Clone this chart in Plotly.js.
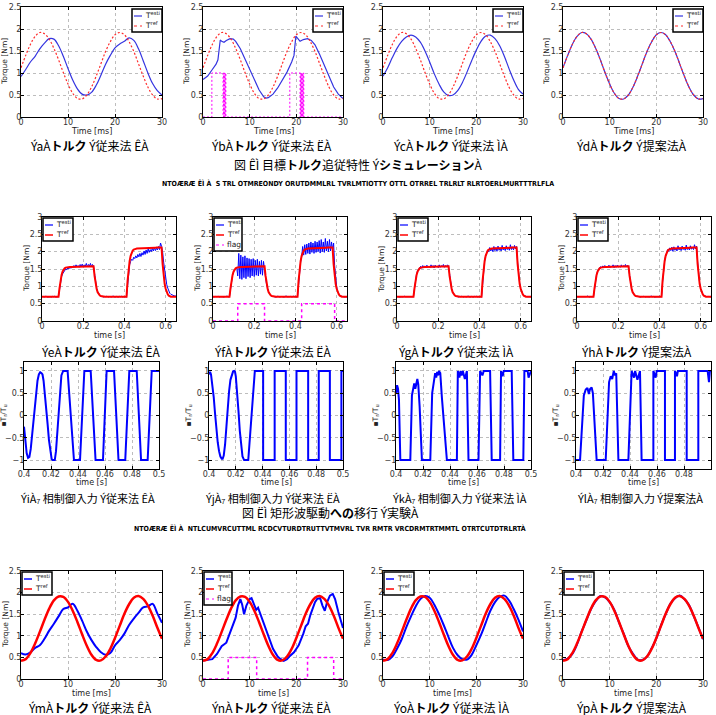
<!DOCTYPE html>
<html><head><meta charset="utf-8">
<script src="https://cdn.plot.ly/plotly-3.0.1.min.js"></script>
<style>body{margin:0;background:#fff}#chart{width:716px;height:715px}</style>
</head><body><div id="chart"></div><script>
// ---------- Row 1: simulation, torque vs time [ms] (x0=0, dx=1) ----------
const simRef   = [1.12,1.40,1.65,1.83,1.92,1.89,1.77,1.56,1.30,1.01,0.75,0.54,0.42,0.41,0.50,0.68,0.93,1.21,1.49,1.71,1.87,1.92,1.87,1.71,1.49,1.21,0.93,0.68,0.50,0.41,0.42];
const simEstiA = [0.92,1.08,1.25,1.38,1.55,1.68,1.78,1.77,1.62,1.38,1.10,0.84,0.64,0.52,0.50,0.56,0.72,0.95,1.20,1.40,1.57,1.66,1.72,1.80,1.74,1.55,1.28,1.00,0.76,0.60,0.50];
const simTimeB = [0,1,2,2.8,3.2,3.45,3.7,4.0,4.5,5.0,5.8,6.5,7.0,8,9,10,11,12,13,13.5,14,15,16,17,18,19,19.5,19.9,20.3,20.8,21.5,22.4,23.2,24,25,26,27,28,29,30];
const simEstiB = [0.85,0.93,1.08,1.20,1.30,1.55,1.75,1.72,1.70,1.74,1.78,1.77,1.72,1.55,1.32,1.06,0.82,0.62,0.46,0.43,0.44,0.52,0.66,0.84,1.02,1.25,1.40,1.84,1.78,1.72,1.76,1.78,1.74,1.64,1.42,1.16,0.90,0.68,0.52,0.42];
const simFlagT = [0,1.9,1.9,4.3,4.3,4.4,4.4,4.5,4.5,4.6,4.6,4.7,4.7,4.8,4.8,4.9,4.9,18.6,18.6,20.8,20.8,20.9,20.9,21.0,21.0,21.1,21.1,21.2,21.2,21.3,21.3,21.4,21.4,21.5,21.5,21.6,21.6,30];
const simFlag  = [0,0,1,1,0,0,1,1,0,0,1,1,0,0,1,1,0,0,1,1,0,0,1,1,0,0,1,1,0,0,1,1,0,0,1,1,0,0];
const simEstiC = [0.93,1.12,1.35,1.56,1.72,1.82,1.86,1.82,1.70,1.50,1.25,0.98,0.75,0.57,0.49,0.50,0.60,0.78,1.02,1.28,1.52,1.72,1.84,1.86,1.78,1.62,1.38,1.10,0.84,0.63,0.52];
const simEstiD = [1.12,1.40,1.65,1.83,1.92,1.89,1.77,1.56,1.30,1.01,0.75,0.54,0.42,0.41,0.50,0.68,0.93,1.21,1.49,1.71,1.87,1.92,1.87,1.71,1.49,1.21,0.93,0.68,0.50,0.41,0.42];

// ---------- Row 2: experiment, step torque vs time [s] (x0=0, dx=0.005) ----------
const expRef = [0.70,0.70,0.70,0.70,0.70,0.70,0.70,0.70,0.70,0.70,0.70,0.70,0.70,0.70,0.70,0.70,0.70,
 0.95,1.18,1.33,1.43,1.49,1.52,1.54,1.55,
 1.55,1.56,1.56,1.56,1.56,1.57,1.57,1.57,1.57,1.57,1.57,1.58,1.58,1.58,1.58,1.58,1.58,1.58,1.58,1.58,1.58,1.58,1.58,1.58,1.58,1.58,
 1.30,1.08,0.93,0.83,0.77,0.74,0.72,0.71,
 0.70,0.70,0.70,0.70,0.70,0.70,0.70,0.70,0.70,0.70,0.70,0.70,0.70,0.70,0.70,0.70,0.70,0.70,0.70,0.70,0.70,0.70,0.70,0.70,
 1.15,1.50,1.73,1.88,1.97,2.03,2.06,2.08,
 2.08,2.09,2.09,2.09,2.09,2.10,2.10,2.10,2.10,2.10,2.10,2.10,2.11,2.11,2.11,2.11,2.11,2.11,2.11,2.11,2.12,2.12,2.12,2.12,2.12,2.12,
 1.65,1.30,1.07,0.93,0.83,0.77,0.73,0.71,
 0.70,0.70,0.70,0.70,0.70,0.70];
const expEstiA = [0.70,0.71,0.69,0.70,0.72,0.69,0.70,0.71,0.70,0.69,0.71,0.70,0.72,0.69,0.70,0.71,0.70,
 0.90,1.12,1.28,1.36,1.42,1.45,1.50,1.48,1.53,1.50,1.56,1.52,1.58,1.54,1.60,1.55,1.62,1.56,1.60,1.55,1.63,1.57,1.64,1.56,1.62,1.58,1.66,1.56,1.63,1.58,1.66,1.57,1.63,1.58,
 1.35,1.12,0.95,0.85,0.78,0.75,0.72,0.71,
 0.70,0.69,0.71,0.70,0.72,0.69,0.70,0.71,0.69,0.70,0.72,0.70,0.69,0.71,0.70,0.69,0.71,0.70,0.72,0.69,0.70,0.71,0.70,0.69,
 1.05,1.40,1.62,1.72,1.78,1.75,1.84,1.80,1.88,1.82,1.92,1.85,1.95,1.86,1.97,1.90,2.02,1.92,2.05,1.95,2.08,1.98,2.06,2.00,2.10,2.02,2.12,2.03,2.10,2.05,2.15,2.06,2.25,2.15,
 2.00,1.70,1.45,1.22,1.05,0.95,0.86,0.80,0.77,0.75,0.74,0.73,0.72,0.72];
const expEstiB = [0.70,0.69,0.71,0.70,0.70,0.72,0.69,0.70,0.71,0.70,0.69,0.70,0.71,0.70,0.72,0.69,0.70,
 0.92,1.15,1.32,1.42,1.48,1.52,1.54,1.30,1.95,1.22,1.90,1.20,1.85,1.25,1.88,1.22,1.82,1.28,1.80,1.25,1.78,1.30,1.80,1.28,1.75,1.32,1.78,1.30,1.72,1.35,1.75,1.32,1.72,1.40,
 1.25,1.05,0.92,0.84,0.78,0.74,0.72,0.71,
 0.70,0.71,0.69,0.70,0.72,0.70,0.69,0.71,0.70,0.70,0.69,0.71,0.72,0.70,0.69,0.70,0.71,0.70,0.69,0.72,0.70,0.71,0.69,0.70,
 1.10,1.45,1.70,1.85,2.15,1.90,2.20,1.92,2.22,1.95,2.25,1.93,2.28,1.98,2.25,1.95,2.30,1.98,2.28,2.00,2.32,1.96,2.35,2.00,2.28,1.98,2.38,2.02,2.30,2.00,2.35,2.02,2.28,2.05,
 2.25,1.60,1.20,0.98,0.85,0.78,0.74,0.72,0.71,0.70,0.70,0.69,0.70,0.70];
const expEstiC = [0.70,0.71,0.69,0.70,0.71,0.70,0.69,0.72,0.70,0.70,0.69,0.71,0.70,0.70,0.71,0.69,0.70,
 0.95,1.20,1.35,1.45,1.50,1.53,1.58,1.52,1.60,1.54,1.59,1.53,1.61,1.55,1.58,1.54,1.62,1.55,1.60,1.53,1.61,1.56,1.59,1.54,1.62,1.55,1.60,1.56,1.63,1.55,1.60,1.56,1.62,1.58,
 1.32,1.10,0.94,0.84,0.78,0.74,0.72,0.71,
 0.70,0.69,0.71,0.70,0.72,0.69,0.70,0.71,0.69,0.70,0.72,0.70,0.69,0.71,0.70,0.69,0.71,0.70,0.72,0.69,0.70,0.71,0.70,0.69,
 1.12,1.48,1.72,1.88,1.98,2.05,2.00,2.12,2.02,2.10,2.00,2.15,2.03,2.12,2.01,2.16,2.04,2.11,2.02,2.18,2.05,2.12,2.03,2.17,2.06,2.13,2.04,2.20,2.06,2.14,2.05,2.18,2.08,2.15,
 1.70,1.32,1.08,0.94,0.84,0.78,0.74,0.72,0.71,0.70,0.70,0.71,0.70,0.70];
const expEstiD = [0.70,0.70,0.71,0.69,0.70,0.71,0.70,0.69,0.71,0.70,0.72,0.70,0.69,0.70,0.71,0.70,0.70,
 0.95,1.19,1.34,1.44,1.50,1.54,1.57,1.53,1.59,1.55,1.60,1.54,1.58,1.55,1.61,1.54,1.59,1.56,1.62,1.54,1.60,1.55,1.61,1.56,1.59,1.55,1.62,1.56,1.60,1.57,1.63,1.56,1.61,1.58,
 1.32,1.10,0.94,0.84,0.78,0.74,0.72,0.71,
 0.70,0.71,0.70,0.69,0.71,0.70,0.72,0.69,0.70,0.71,0.70,0.69,0.70,0.72,0.70,0.71,0.69,0.70,0.71,0.70,0.69,0.72,0.70,0.70,
 1.12,1.48,1.72,1.88,1.97,2.06,2.01,2.11,2.03,2.13,2.01,2.14,2.04,2.10,2.02,2.17,2.05,2.12,2.03,2.16,2.06,2.11,2.04,2.19,2.06,2.12,2.05,2.17,2.07,2.13,2.06,2.20,2.08,2.16,
 1.72,1.33,1.08,0.94,0.84,0.78,0.74,0.72,0.71,0.70,0.71,0.70,0.70,0.70];
const expFlagT = [0,0.12,0.12,0.25,0.25,0.43,0.43,0.59,0.59,0.65];
const expFlag  = [0,0,0.5,0.5,0,0,0.5,0.5,0,0];

// ---------- Row 3: q-axis control input ----------
const r3aT = [0.4,0.401,0.402,0.403,0.404,0.405,0.406,0.407,0.408,0.409,0.41,0.411,0.412,0.413,0.4137,0.4145,0.4155,0.4165,0.4175,0.4185,0.4195,0.4205,0.4212,0.4228,0.4237,0.4247,0.4257,0.4267,0.4277,0.429,0.4323,0.437,0.4415,0.4447,0.4494,0.453,0.4585,0.4612,0.4667,0.47,0.475,0.478,0.4835,0.4867,0.4916,0.4946,0.5];
const r3aV = [-0.25,-0.62,-0.85,-0.95,-0.93,-0.75,-0.45,-0.1,0.25,0.55,0.78,0.92,0.97,0.95,0.92,0.78,0.5,0.15,-0.2,-0.55,-0.82,-0.98,-1,-1,-0.8,-0.35,0.15,0.6,0.9,1,1,-1,-1,1,1,-1,-1,1,1,-1,-1,1,1,-1,-1,1,1];
const r3bT = [0.4,0.4008,0.4015,0.4025,0.4035,0.4045,0.4055,0.4065,0.4075,0.4085,0.4095,0.4102,0.411,0.412,0.413,0.414,0.415,0.416,0.417,0.418,0.4188,0.4194,0.42,0.421,0.422,0.423,0.424,0.425,0.4262,0.4268,0.4293,0.4342,0.4404,0.4404,0.449,0.449,0.4573,0.4573,0.4653,0.4653,0.474,0.474,0.4819,0.4819,0.4902,0.4902,0.4988,0.4988,0.5];
const r3bV = [0.92,0.98,0.92,0.72,0.42,0.05,-0.3,-0.6,-0.8,-0.92,-0.97,-0.97,-0.9,-0.65,-0.25,0.2,0.55,0.8,0.93,0.99,1.0,0.98,0.88,0.55,0.1,-0.35,-0.7,-0.92,-1,-1,-1,1,1,-1,-1,1,1,-1,-1,1,1,-1,-1,1,1,-1,-1,1,1];
const r3cT = [0.4,0.4008,0.4015,0.4022,0.4032,0.4106,0.4118,0.4128,0.4135,0.4143,0.415,0.4158,0.4165,0.4175,0.4192,0.4254,0.4268,0.428,0.429,0.4298,0.4305,0.4312,0.4318,0.4328,0.434,0.4377,0.4451,0.4458,0.447,0.4478,0.4486,0.4495,0.451,0.4525,0.4537,0.4611,0.4623,0.464,0.465,0.4658,0.4697,0.4709,0.4771,0.4778,0.479,0.4798,0.4857,0.4869,0.4943,0.4951,0.4975,0.4982,0.5];
const r3cV = [0.5,0.68,0.6,0.35,-1,-1,0.45,0.62,0.72,0.6,0.75,0.82,0.7,0.2,-1,-1,0.5,0.82,0.95,0.85,0.98,0.9,1,0.95,0.4,-1,-1,1,0.85,1,0.9,1,0.82,1,-1,-1,1,0.9,1,1,1,-1,-1,1,0.88,1,1,-1,-1,1,1,0.85,1];
const r3dT = [0.4,0.403,0.4058,0.4072,0.4085,0.4095,0.4105,0.4116,0.4125,0.4153,0.422,0.4245,0.4257,0.4268,0.428,0.429,0.4298,0.4314,0.4388,0.4412,0.443,0.4438,0.4455,0.4474,0.4486,0.4573,0.4573,0.459,0.4598,0.4659,0.4659,0.4733,0.4733,0.4748,0.4755,0.482,0.482,0.4906,0.4906,0.4975,0.4985,0.4992,0.5];
const r3dV = [-1,-1,0.45,0.58,0.62,0.48,0.6,0.63,0.5,-1,-1,0.75,0.88,0.82,1,0.9,0.95,-1,-1,1,0.85,1,0.8,1,-1,-1,1,0.85,1,1,-1,-1,1,0.88,1,1,-1,-1,1,1,0.75,1,1];

// ---------- Row 4: experiment, sinusoidal torque (x0=0, dx=1 ms) ----------
const r4Ref   = [0.42,0.46,0.60,0.82,1.09,1.37,1.63,1.82,1.91,1.90,1.785,1.58,1.32,1.035,0.77,0.56,0.44,0.43,0.52,0.70,0.95,1.23,1.51,1.73,1.88,1.92,1.855,1.70,1.47,1.19,0.93];
const r4EstiA = [0.60,0.57,0.62,0.72,0.78,0.93,1.12,1.28,1.45,1.62,1.66,1.74,1.58,1.35,1.10,0.90,0.74,0.62,0.56,0.60,0.78,0.90,1.05,1.25,1.40,1.53,1.66,1.68,1.74,1.52,1.30];
const r4TimeB = [0,1,2,3,4,5,5.5,6.2,7,7.5,8,8.4,8.8,9.3,10,10.4,11,11.4,11.8,12.5,13.3,14,15,16,16.5,17.3,18,18.5,19.5,20.5,21,21.5,22,22.5,23,23.5,24,24.5,25.1,25.6,26.1,26.6,27.2,27.8,28.3,29,29.5,30];
const r4EstiB = [0.43,0.44,0.46,0.58,0.76,0.84,0.98,1.15,1.42,1.70,1.85,1.72,1.50,1.70,1.85,1.87,1.72,1.60,1.65,1.45,1.20,0.98,0.70,0.52,0.47,0.42,0.46,0.52,0.62,0.78,0.90,1.05,1.22,1.28,1.48,1.65,1.78,1.86,1.87,1.70,1.58,1.78,1.93,1.97,1.85,1.55,1.38,1.18];
const r4FlagT = [0,5.4,5.4,11.5,11.5,22.4,22.4,28.0,28.0,30];
const r4Flag  = [0,0,0.5,0.5,0,0,0.5,0.5,0,0];
const r4EstiC = [0.45,0.44,0.52,0.70,0.92,1.20,1.45,1.68,1.85,1.92,1.88,1.72,1.50,1.25,0.98,0.72,0.55,0.46,0.45,0.56,0.78,1.02,1.30,1.58,1.78,1.90,1.93,1.82,1.62,1.38,1.10];
const r4EstiD = [0.44,0.47,0.58,0.80,1.10,1.36,1.62,1.80,1.92,1.89,1.78,1.60,1.31,1.05,0.76,0.58,0.45,0.44,0.52,0.71,0.94,1.24,1.50,1.74,1.87,1.93,1.85,1.71,1.46,1.20,0.92];

// ---------- Tick labels and text ----------
const tickT30 = [0,10,20,30];
const tickTq25 = [0,0.5,1,1.5,2,2.5];
const tickTq3 = [0,0.5,1,1.5,2,2.5,3];
const tickS65 = [0,0.2,0.4,0.6];
const tickS5 = [0.4,0.42,0.44,0.46,0.48,0.5];
const tickU = [-1,-0.5,0,0.5,1];
const capRow1 = ['ÝaÀ<b>トルク</b> Ý従来法 ÊÀ','ÝbÀ<b>トルク</b> Ý従来法 ËÀ','ÝcÀ<b>トルク</b> Ý従来法 ÌÀ','ÝdÀ<b>トルク</b> Ý提案法À'];
const capRow2 = ['ÝeÀ<b>トルク</b> Ý従来法 ÊÀ','ÝfÀ<b>トルク</b> Ý従来法 ËÀ','ÝgÀ<b>トルク</b> Ý従来法 ÌÀ','ÝhÀ<b>トルク</b> Ý提案法À'];
const capRow3 = ['ÝiÀ₇ 相制御入力 Ý従来法 ÊÀ','ÝjÀ₇ 相制御入力 Ý従来法 ËÀ','ÝkÀ₇ 相制御入力 Ý従来法 ÌÀ','ÝlÀ₇ 相制御入力 Ý提案法À'];
const capRow4 = ['ÝmÀ<b>トルク</b> Ý従来法 ÊÀ','ÝnÀ<b>トルク</b> Ý従来法 ËÀ','ÝoÀ<b>トルク</b> Ý従来法 ÌÀ','ÝpÀ<b>トルク</b> Ý提案法À'];
const figCap1 = '図 ÊÌ 目標<b>トルク</b>追従特性 Ý<b>シミュレーション</b>À';
const figCap1En = '<b>NTOÆRÆ ÊÌ À  S TRL OTMREONDY ORUTDMMLRL TVRLMTIOTTY OTTL OTRREL TRLRLT RLRTOERLMURTTTRLFLA</b>';
const figCap2 = '図 ËÌ 矩形波駆動<b>への</b>移行 Ý実験À';
const figCap2En = '<b>NTOÆRÆ ËÌ À  NTLCUMVRCUTTML RCDCVTURDTRUTTVTMVRL TVR RMTR VRCDRMTRTMMTL OTRTCUTDTRLRTÀ</b>';

// ---------- Layout helpers ----------
const W = 716, H = 715;
const FONT = 'DejaVu Sans, Arial, sans-serif';
const JP = 'Noto Sans CJK JP, sans-serif';
const NARROW = 'DejaVu Sans Condensed, Liberation Sans Narrow, DejaVu Sans, sans-serif';
function px(x) { return x / W; }
function py(y) { return 1 - y / H; }
function axis(o) {
  return Object.assign({
    showline: true, linecolor: '#000', linewidth: 1, mirror: 'ticks',
    ticks: 'inside', ticklen: 3, tickcolor: '#000',
    showgrid: true, gridcolor: '#bdbdbd', griddash: 'dot', gridwidth: 1,
    zeroline: false, fixedrange: true, tickmode: 'array', ticklabelstandoff: -3,
    tickfont: { family: FONT, size: 8, color: '#333' }
  }, o);
}

const layout = {
  width: W, height: H, margin: { l: 0, r: 0, t: 0, b: 0 },
  paper_bgcolor: '#fff', plot_bgcolor: '#fff', showlegend: false,
  annotations: [], shapes: [], font: { family: FONT }
};

// panel boxes in pixels
const row1 = [[21,162],[203,343],[383,523],[563,703]], row1y = [7,117];
const row2 = [[42,176],[213,347],[397,531],[577,711]], row2y = [217,321];
const row3 = [[24,159],[209,343],[396,531],[576,711]], row3y = [362,469];
const row4 = [[21,162],[203,343],[383,523],[563,703]], row4y = [571,679];

function text(txt, x, y, size, fam, anchor, extra) {
  layout.annotations.push(Object.assign({ text: txt, x: px(x), y: py(y), xref: 'paper', yref: 'paper',
    showarrow: false, xanchor: anchor || 'center', yanchor: 'middle',
    font: { family: fam || FONT, size: size, color: '#000' } }, extra || {}));
}

let n = 0;
function addPanel(xb, yb, xr, xt, yr, yt, xtitle, ytitle, ytitleX) {
  n++;
  const xs = n === 1 ? 'xaxis' : 'xaxis' + n, ys = n === 1 ? 'yaxis' : 'yaxis' + n;
  const xref = n === 1 ? 'x' : 'x' + n, yref = n === 1 ? 'y' : 'y' + n;
  layout[xs] = axis({ domain: [px(xb[0]), px(xb[1])], range: xr, tickvals: xt, anchor: yref });
  layout[ys] = axis({ domain: [py(yb[1]), py(yb[0])], range: yr, tickvals: yt, anchor: xref });
  text(xtitle, (xb[0] + xb[1]) / 2, yb[1] + 14, 8, FONT, 'center', { font: { family: FONT, size: 8, color: '#222' } });
  text(ytitle, ytitleX, (yb[0] + yb[1]) / 2, 8, FONT, 'center', { textangle: -90, font: { family: FONT, size: 7.5, color: '#222' } });
  return { xaxis: xref, yaxis: yref };
}
// hand-drawn small legend box (decoration, not data)
function legendBox(left, top, items) {
  const w = items.length > 2 ? 28 : 30, hgt = 3 + 10 * items.length;
  layout.shapes.push({ type: 'rect', xref: 'paper', yref: 'paper', x0: px(left), x1: px(left + w), y0: py(top + hgt), y1: py(top),
    line: { color: '#000', width: 1.5 }, fillcolor: '#fff', layer: 'above' });
  items.forEach((it, k) => {
    const yy = top + 7 + 10 * k;
    layout.shapes.push({ type: 'line', xref: 'paper', yref: 'paper', x0: px(left + 2), x1: px(left + 10), y0: py(yy), y1: py(yy),
      line: { color: it.color, width: it.width, dash: it.dash || 'solid' }, layer: 'above' });
    text(it.label, left + 11, yy - 1, 7.5, FONT, 'left', { font: { family: FONT, size: 7.5, color: '#222' } });
  });
}

const BLUE1 = '#3434e0', RED1 = '#ff2a2a', BLUE = '#0000ff', RED = '#ff0000', MAG = '#ff00ff';
const traces = [];
const lbE = 'T<sup>esti</sup>', lbR = 'T<sup>ref</sup>';

// Row 1
const r1E = [{ x0: 0, dx: 1, y: simEstiA }, { x: simTimeB, y: simEstiB }, { x0: 0, dx: 1, y: simEstiC }, { x0: 0, dx: 1, y: simEstiD }];
for (let i = 0; i < 4; i++) {
  const a = addPanel(row1[i], row1y, [0, 30], tickT30, [0, 2.5], tickTq25, 'Time [ms]', 'Torque [Nm]', row1[i][0] - 16);
  traces.push(Object.assign({ type: 'scatter', mode: 'lines', line: { color: BLUE1, width: 1.2, shape: i === 1 ? 'linear' : 'spline' } }, r1E[i], a));
  traces.push(Object.assign({ type: 'scatter', mode: 'lines', x0: 0, dx: 1, y: simRef, line: { color: RED1, width: 1.2, dash: '2px,2px', shape: 'spline' } }, a));
  if (i === 1) traces.push(Object.assign({ type: 'scatter', mode: 'lines', x: simFlagT, y: simFlag, line: { color: MAG, width: 1, dash: '2px,2px' } }, a));
  legendBox(row1[i][1] - 30, row1y[0] + 2, [
    { color: BLUE1, width: 1.2, label: lbE }, { color: RED1, width: 1.2, dash: 'dot', label: lbR }]);
  text(capRow1[i], (row1[i][0] + row1[i][1]) / 2 - 2, 145, 12, JP);
}
text(figCap1, 358, 164, 12, JP);
text(figCap1En, 358, 183, 7, NARROW);

// Row 2
const r2E = [expEstiA, expEstiB, expEstiC, expEstiD];
for (let i = 0; i < 4; i++) {
  const a = addPanel(row2[i], row2y, [0, 0.65], tickS65, [0, 3], tickTq3, 'time [s]', 'Torque [Nm]', row2[i][0] - 16);
  traces.push(Object.assign({ type: 'scatter', mode: 'lines', x0: 0, dx: 0.005, y: r2E[i], line: { color: BLUE, width: 1 } }, a));
  traces.push(Object.assign({ type: 'scatter', mode: 'lines', x0: 0, dx: 0.005, y: expRef, line: { color: RED, width: 2 } }, a));
  const items = [{ color: BLUE, width: 1.2, label: lbE }, { color: RED, width: 1.5, label: lbR }];
  if (i === 1) {
    traces.push(Object.assign({ type: 'scatter', mode: 'lines', x: expFlagT, y: expFlag, line: { color: MAG, width: 1.5, dash: 'dot' } }, a));
    items.push({ color: MAG, width: 1.2, dash: 'dot', label: 'flag' });
  }
  legendBox(row2[i][0] + 1, row2y[0] + 1, items);
  text(capRow2[i], (row2[i][0] + row2[i][1]) / 2 - 8, 351, 12, JP);
}

// Row 3
const r3 = [[r3aT, r3aV], [r3bT, r3bV], [r3cT, r3cV], [r3dT, r3dV]];
for (let i = 0; i < 4; i++) {
  const a = addPanel(row3[i], row3y, [0.4, 0.5], tickS5, [-1.2, 1.2], tickU, 'time [s]', '▪T<sub>r</sub>/T<sub>u</sub>', row3[i][0] - 21);
  traces.push(Object.assign({ type: 'scatter', mode: 'lines', x: r3[i][0], y: r3[i][1], line: { color: BLUE, width: 2 } }, a));
  text(capRow3[i], (row3[i][0] + row3[i][1]) / 2 - 4, 498, 11, JP);
}
text(figCap2, 330, 512, 12, JP);
text(figCap2En, 330, 528, 7, NARROW);

// Row 4
const r4E = [{ x0: 0, dx: 1, y: r4EstiA }, { x: r4TimeB, y: r4EstiB }, { x0: 0, dx: 1, y: r4EstiC }, { x0: 0, dx: 1, y: r4EstiD }];
const r4xt = ['time [ms]', 'time [s]', 'time [ms]', 'time [ms]'];
for (let i = 0; i < 4; i++) {
  const a = addPanel(row4[i], row4y, [0, 30], tickT30, [0, 2.5], tickTq25, r4xt[i], 'Torque [Nm]', row4[i][0] - 16);
  traces.push(Object.assign({ type: 'scatter', mode: 'lines', line: { color: BLUE, width: 2, shape: i === 1 ? 'linear' : 'spline' } }, r4E[i], a));
  traces.push(Object.assign({ type: 'scatter', mode: 'lines', x0: 0, dx: 1, y: r4Ref, line: { color: RED, width: 2.5, shape: 'spline' } }, a));
  const items = [{ color: BLUE, width: 1.5, label: lbE }, { color: RED, width: 1.5, label: lbR }];
  if (i === 1) {
    traces.push(Object.assign({ type: 'scatter', mode: 'lines', x: r4FlagT, y: r4Flag, line: { color: MAG, width: 1.5, dash: 'dot' } }, a));
    items.push({ color: MAG, width: 1.2, dash: 'dot', label: 'flag' });
  }
  legendBox(row4[i][0] + 1, row4y[0] + 1, items);
  text(capRow4[i], (row4[i][0] + row4[i][1]) / 2 - 2, 707, 12, JP);
}

Plotly.newPlot('chart', traces, layout, { staticPlot: true, displayModeBar: false });
</script></body></html>
